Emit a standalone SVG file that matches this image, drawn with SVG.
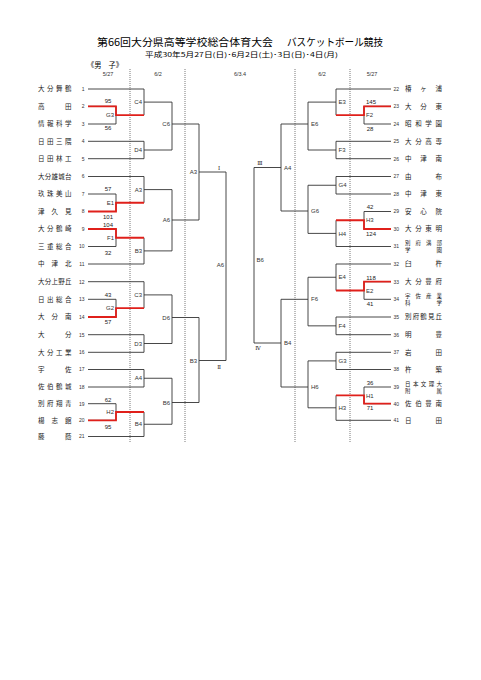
<svg xmlns="http://www.w3.org/2000/svg" width="481" height="680" viewBox="0 0 481 680">
<style>
.ln{fill:none;stroke:#333;stroke-width:0.9}
.rd{fill:none;stroke:#e0201b;stroke-width:1.8}
.dot{fill:none;stroke:#555;stroke-width:0.8;stroke-dasharray:1 1}
.nm{font-family:"Noto Sans CJK JP","Noto Sans CJK SC",sans-serif;font-size:6.5px;fill:#222}
.nm2{font-family:"Noto Sans CJK JP","Noto Sans CJK SC",sans-serif;font-size:5.5px;fill:#222}
.no{font-family:"Liberation Sans",sans-serif;font-size:5px;fill:#333}
.ne{text-anchor:end}
.lb{font-family:"Liberation Sans",sans-serif;font-size:6px;fill:#333}
.sc{font-family:"Liberation Sans",sans-serif;font-size:6px;fill:#222;text-anchor:middle}
.rn{font-family:"DejaVu Serif","Liberation Serif",serif;font-size:5.5px;fill:#222;text-anchor:middle}
.hd{font-family:"Liberation Sans",sans-serif;font-size:5.5px;fill:#333;text-anchor:middle}
.tt{font-family:"Noto Sans CJK JP","Noto Sans CJK SC",sans-serif;fill:#000}
</style>
<rect width="481" height="680" fill="#fff"/>
<g id="header">
<text class="tt" x="97" y="46.3" font-size="10.5" textLength="176" lengthAdjust="spacingAndGlyphs">第66回大分県高等学校総合体育大会</text>
<text class="tt" x="287" y="46.3" font-size="10.5" textLength="96" lengthAdjust="spacingAndGlyphs">バスケットボール競技</text>
<text class="tt" x="145" y="57" font-size="6.3" textLength="193" lengthAdjust="spacingAndGlyphs">平成30年5月27日(日)･6月2日(土)･3日(日)･4日(月)</text>
<text class="tt" x="87" y="67.5" font-size="7.5" textLength="36" lengthAdjust="spacingAndGlyphs">《男　子》</text>
<text class="hd" x="108" y="75.5">5/27</text>
<text class="hd" x="158" y="75.5">6/2</text>
<text class="hd" x="240" y="75.5">6/3.4</text>
<text class="hd" x="322" y="75.5">6/2</text>
<text class="hd" x="372" y="75.5">5/27</text>
</g>
<g id="day-dividers">
<line class="dot" x1="130" y1="69" x2="130" y2="443"/>
<line class="dot" x1="185" y1="69" x2="185" y2="443"/>
<line class="dot" x1="295" y1="69" x2="295" y2="443"/>
<line class="dot" x1="350" y1="69" x2="350" y2="443"/>
</g>
<g id="connectors">
<path class="ln" d="M88,89H144M88,141.3H144M88,158.7H144M88,176.5H144M88,264H144M88,281.7H144M88,334.7H144M88,352.3H144M88,369.5H144M88,387H144M88,436.5H144"/>
<path class="ln" d="M88,106.3H116V124H88M88,194H116V211.5H88M88,229H116V246.5H88M88,299.3H116V317H88M88,403.7H116V420.3H88"/>
<path class="ln" d="M144,89V115.15M144,102.1H172M144,141.3V158.7M144,150H172M144,176.5V202.75M144,189.6H172M144,237.75V264M144,250.9H172M144,281.7V308.15M144,294.9H172M144,334.7V352.3M144,343.5H172M144,369.5V387M144,378.25H172M144,412V436.5M144,424.25H172"/>
<path class="ln" d="M172,102.1V150M172,124H199M172,189.6V250.9M172,220H199M172,294.9V343.5M172,317.5H199M172,378.25V424.25M172,402.5H199"/>
<path class="ln" d="M199,124V220M199,172H226M199,317.5V402.5M199,360.5H226M226,172V360.5"/>
<path class="ln" d="M391,89H336M391,141.3H336M391,158.7H336M391,176.5H336M391,194H336M391,246.5H336M391,264H336M391,317H336M391,334.7H336M391,352.3H336M391,369.5H336M391,420.3H336"/>
<path class="ln" d="M391,106.3H364V124H391M391,211.5H364V229H391M391,281.7H364V299.3H391M391,387H364V403.7H391"/>
<path class="ln" d="M336,89V115.15M336,102.1H308M336,141.3V158.7M336,150H308M336,176.5V194M336,185.25H308M336,220.25V246.5M336,233.4H308M336,264V290.5M336,277.25H308M336,317V334.7M336,325.85H308M336,352.3V369.5M336,360.9H308M336,395.35V420.3M336,407.8H308"/>
<path class="ln" d="M308,102.1V150M308,124H281M308,185.25V233.4M308,211H281M308,277.25V325.85M308,299.3H281M308,360.9V407.8M308,387H281"/>
<path class="ln" d="M281,124V211M281,167.5H254M281,299.3V387M281,343H254M254,167.5V343"/>
<path class="rd" d="M88,106.3H116V115.15H144M88,211.5H116V202.75H144M88,229H116V237.75H144M88,317H116V308.15H144M88,420.3H116V412H144"/>
<path class="rd" d="M391,106.3H364V115.15H336M391,229H364V220.25H336M391,281.7H364V290.5H336M391,403.7H364V395.35H336"/>
</g>
<g id="teams-left">
<g id="t1"><text class="nm" x="38 47 56 65" y="91.4">大分舞鶴</text><text class="no ne" x="84.5" y="90.8">1</text></g>
<g id="t2"><text class="nm" x="38 65" y="108.7">高田</text><text class="no ne" x="84.5" y="108.1">2</text></g>
<g id="t3"><text class="nm" x="38 47 56 65" y="126.4">情報科学</text><text class="no ne" x="84.5" y="125.8">3</text></g>
<g id="t4"><text class="nm" x="38 47 56 65" y="143.7">日田三隈</text><text class="no ne" x="84.5" y="143.1">4</text></g>
<g id="t5"><text class="nm" x="38 47 56 65" y="161.1">日田林工</text><text class="no ne" x="84.5" y="160.5">5</text></g>
<g id="t6"><text class="nm" x="38 44.75 51.5 58.25 65" y="178.9">大分雄城台</text><text class="no ne" x="84.5" y="178.3">6</text></g>
<g id="t7"><text class="nm" x="38 47 56 65" y="196.4">玖珠美山</text><text class="no ne" x="84.5" y="195.8">7</text></g>
<g id="t8"><text class="nm" x="38 51.5 65" y="213.9">津久見</text><text class="no ne" x="84.5" y="213.3">8</text></g>
<g id="t9"><text class="nm" x="38 47 56 65" y="231.4">大分鶴崎</text><text class="no ne" x="84.5" y="230.8">9</text></g>
<g id="t10"><text class="nm" x="38 47 56 65" y="248.9">三重総合</text><text class="no ne" x="84.5" y="248.3">10</text></g>
<g id="t11"><text class="nm" x="38 51.5 65" y="266.4">中津北</text><text class="no ne" x="84.5" y="265.8">11</text></g>
<g id="t12"><text class="nm" x="38 44.75 51.5 58.25 65" y="284.1">大分上野丘</text><text class="no ne" x="84.5" y="283.5">12</text></g>
<g id="t13"><text class="nm" x="38 47 56 65" y="301.7">日出総合</text><text class="no ne" x="84.5" y="301.1">13</text></g>
<g id="t14"><text class="nm" x="38 51.5 65" y="319.4">大分南</text><text class="no ne" x="84.5" y="318.8">14</text></g>
<g id="t15"><text class="nm" x="38 65" y="337.1">大分</text><text class="no ne" x="84.5" y="336.5">15</text></g>
<g id="t16"><text class="nm" x="38 47 56 65" y="354.7">大分工業</text><text class="no ne" x="84.5" y="354.1">16</text></g>
<g id="t17"><text class="nm" x="38 65" y="371.9">宇佐</text><text class="no ne" x="84.5" y="371.3">17</text></g>
<g id="t18"><text class="nm" x="38 47 56 65" y="389.4">佐伯鶴城</text><text class="no ne" x="84.5" y="388.8">18</text></g>
<g id="t19"><text class="nm" x="38 47 56 65" y="406.1">別府翔青</text><text class="no ne" x="84.5" y="405.5">19</text></g>
<g id="t20"><text class="nm" x="38 51.5 65" y="422.7">楊志館</text><text class="no ne" x="84.5" y="422.1">20</text></g>
<g id="t21"><text class="nm" x="38 65" y="438.9">藤蔭</text><text class="no ne" x="84.5" y="438.3">21</text></g>
</g>
<g id="teams-right">
<g id="t22"><text class="no" x="393.5" y="90.8">22</text><text class="nm" x="405 420.25 435.5" y="91.4">椿ヶ浦</text></g>
<g id="t23"><text class="no" x="393.5" y="108.1">23</text><text class="nm" x="405 420.25 435.5" y="108.7">大分東</text></g>
<g id="t24"><text class="no" x="393.5" y="125.8">24</text><text class="nm" x="405 415.17 425.33 435.5" y="126.4">昭和学園</text></g>
<g id="t25"><text class="no" x="393.5" y="143.1">25</text><text class="nm" x="405 415.17 425.33 435.5" y="143.7">大分高専</text></g>
<g id="t26"><text class="no" x="393.5" y="160.5">26</text><text class="nm" x="405 420.25 435.5" y="161.1">中津南</text></g>
<g id="t27"><text class="no" x="393.5" y="178.3">27</text><text class="nm" x="405 435.5" y="178.9">由布</text></g>
<g id="t28"><text class="no" x="393.5" y="195.8">28</text><text class="nm" x="405 420.25 435.5" y="196.4">中津東</text></g>
<g id="t29"><text class="no" x="393.5" y="213.3">29</text><text class="nm" x="405 420.25 435.5" y="213.9">安心院</text></g>
<g id="t30"><text class="no" x="393.5" y="230.8">30</text><text class="nm" x="405 415.17 425.33 435.5" y="231.4">大分東明</text></g>
<g id="t31"><text class="no" x="393.5" y="248.3">31</text><text class="nm2" x="405 415.5 426 436.5" y="245.4">別府溝部</text><text class="nm2" x="405 436.5" y="252.4">学園</text></g>
<g id="t32"><text class="no" x="393.5" y="265.8">32</text><text class="nm" x="405 435.5" y="266.4">臼杵</text></g>
<g id="t33"><text class="no" x="393.5" y="283.5">33</text><text class="nm" x="405 415.17 425.33 435.5" y="284.1">大分豊府</text></g>
<g id="t34"><text class="no" x="393.5" y="301.1">34</text><text class="nm2" x="405 415.5 426 436.5" y="298.2">宇佐産業</text><text class="nm2" x="405 436.5" y="305.2">科学</text></g>
<g id="t35"><text class="no" x="393.5" y="318.8">35</text><text class="nm" x="405 412.63 420.25 427.88 435.5" y="319.4">別府鶴見丘</text></g>
<g id="t36"><text class="no" x="393.5" y="336.5">36</text><text class="nm" x="405 435.5" y="337.1">明豊</text></g>
<g id="t37"><text class="no" x="393.5" y="354.1">37</text><text class="nm" x="405 435.5" y="354.7">岩田</text></g>
<g id="t38"><text class="no" x="393.5" y="371.3">38</text><text class="nm" x="405 435.5" y="371.9">杵築</text></g>
<g id="t39"><text class="no" x="393.5" y="388.8">39</text><text class="nm2" x="405 412.875 420.75 428.625 436.5" y="385.9">日本文理大</text><text class="nm2" x="405 436.5" y="392.9">附属</text></g>
<g id="t40"><text class="no" x="393.5" y="405.5">40</text><text class="nm" x="405 415.17 425.33 435.5" y="406.1">佐伯豊南</text></g>
<g id="t41"><text class="no" x="393.5" y="422.1">41</text><text class="nm" x="405 435.5" y="422.7">日田</text></g>
</g>
<g id="matches-left" class="lb" text-anchor="end">
<g id="mG3"><text x="114" y="117.3">G3</text></g>
<g id="mE1"><text x="114" y="204.9">E1</text></g>
<g id="mF1"><text x="114" y="239.9">F1</text></g>
<g id="mG2"><text x="114" y="310.3">G2</text></g>
<g id="mH2"><text x="114" y="414.1">H2</text></g>
<g id="mC4"><text x="142" y="104.2">C4</text></g>
<g id="mD4"><text x="142" y="152.1">D4</text></g>
<g id="mA3"><text x="142" y="191.7">A3</text></g>
<g id="mB3"><text x="142" y="253">B3</text></g>
<g id="mC3"><text x="142" y="297">C3</text></g>
<g id="mD3"><text x="142" y="345.6">D3</text></g>
<g id="mA4"><text x="142" y="380.4">A4</text></g>
<g id="mB4"><text x="142" y="426.4">B4</text></g>
<g id="mC6"><text x="170" y="126.1">C6</text></g>
<g id="mA6"><text x="170" y="222.1">A6</text></g>
<g id="mD6"><text x="170" y="319.6">D6</text></g>
<g id="mB6"><text x="170" y="404.6">B6</text></g>
<g id="sA3"><text x="197" y="174.1">A3</text></g>
<g id="sB3"><text x="197" y="362.6">B3</text></g>
<g id="fA6"><text x="224" y="267">A6</text></g>
</g>
<g id="matches-right" class="lb">
<g id="mF2"><text x="366" y="117.3">F2</text></g>
<g id="mH3r"><text x="366" y="222.4">H3</text></g>
<g id="mE2"><text x="366" y="292.6">E2</text></g>
<g id="mH1"><text x="366" y="397.5">H1</text></g>
<g id="mE3"><text x="338.5" y="104.2">E3</text></g>
<g id="mF3"><text x="338.5" y="152.1">F3</text></g>
<g id="mG4"><text x="338.5" y="187.4">G4</text></g>
<g id="mH4"><text x="338.5" y="235.5">H4</text></g>
<g id="mE4"><text x="338.5" y="279.4">E4</text></g>
<g id="mF4"><text x="338.5" y="328">F4</text></g>
<g id="mG3r"><text x="338.5" y="363">G3</text></g>
<g id="mH3"><text x="338.5" y="409.9">H3</text></g>
<g id="mE6"><text x="311" y="126.1">E6</text></g>
<g id="mG6"><text x="311" y="213.1">G6</text></g>
<g id="mF6"><text x="311" y="301.4">F6</text></g>
<g id="mH6"><text x="311" y="389.1">H6</text></g>
<g id="sA4"><text x="284" y="169.6">A4</text></g>
<g id="sB4"><text x="284" y="345.1">B4</text></g>
<g id="fB6"><text x="256.5" y="262">B6</text></g>
</g>
<g id="scores">
<text class="sc" x="108" y="103">95</text>
<text class="sc" x="108" y="130">56</text>
<text class="sc" x="108" y="191">57</text>
<text class="sc" x="108" y="219">101</text>
<text class="sc" x="108" y="227">104</text>
<text class="sc" x="108" y="254.5">32</text>
<text class="sc" x="108" y="297">43</text>
<text class="sc" x="108" y="324">57</text>
<text class="sc" x="108" y="401.5">62</text>
<text class="sc" x="108" y="428.5">95</text>
<text class="sc" x="371" y="104">145</text>
<text class="sc" x="370" y="130.5">28</text>
<text class="sc" x="370" y="209">42</text>
<text class="sc" x="371" y="236">124</text>
<text class="sc" x="371" y="279.5">118</text>
<text class="sc" x="370" y="306">41</text>
<text class="sc" x="370" y="384.5">36</text>
<text class="sc" x="370" y="410">71</text>
</g>
<g id="rounds">
<text class="rn" x="219" y="170">Ⅰ</text>
<text class="rn" x="219" y="368.5">Ⅱ</text>
<text class="rn" x="260" y="165">Ⅲ</text>
<text class="rn" x="258" y="350">Ⅳ</text>
</g>
</svg>
